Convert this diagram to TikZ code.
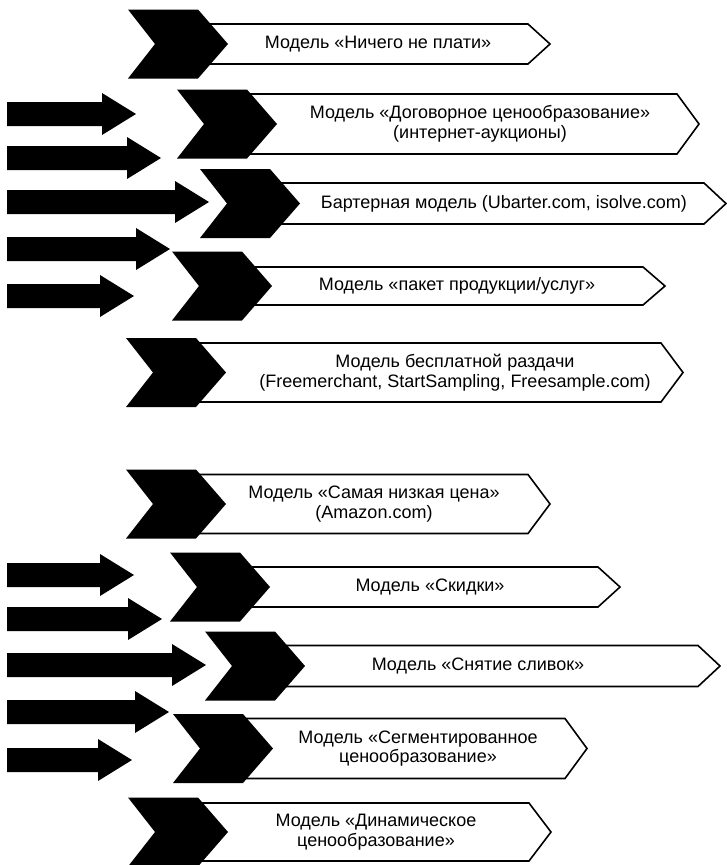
\documentclass[tikz,border=0pt]{standalone}
\usepackage{fontspec}
\setmainfont{Liberation Sans}
% #1 name, #2 chevron left x, #3 mid y, #4 half height of box, #5 box corner x, #6 text x, #7 text
\newcommand\modelrow[7]{%
  \path[boxshape] (#2+60,#3-#4) -- (#5,#3-#4) -- (#5+22,#3) -- (#5,#3+#4) -- (#2+60,#3+#4);
  \path[chevshape] (#2,#3-34.5) -- (#2+70,#3-34.5) -- (#2+100,#3) -- (#2+70,#3+34.5) -- (#2,#3+34.5) -- (#2+27,#3) -- cycle;
  \node[lbl] (#1) at (#6,#3) {#7};
}
% #1 mid y, #2 x of head base
\newcommand\fatarr[2]{%
  \path[fatarrowshape] (7,#1-12) -- (#2,#1-12) -- (#2,#1-21) -- (#2+34,#1) -- (#2,#1+21) -- (#2,#1+12) -- (7,#1+12) -- cycle;
}
\begin{document}
\begin{tikzpicture}[x=1pt,y=-1pt,
  boxshape/.style={fill=white,draw=black,line width=1.6pt,line join=miter},
  chevshape/.style={fill=black},
  fatarrowshape/.style={fill=black},
  lbl/.style={font=\fontsize{18}{19.5}\selectfont,align=center,inner sep=0pt}]
\useasboundingbox (0,0) rectangle (727,865);

% upper group
\fatarr{114}{102}
\fatarr{158}{127}
\fatarr{202}{175}
\fatarr{249}{136}
\fatarr{296}{100}
\modelrow{m1}{128}{44}{20}{528}{378}{Модель «Ничего не плати»}
\modelrow{m2}{177}{124}{30}{677}{480}{Модель «Договорное ценообразование»\\(интернет-аукционы)}
\modelrow{m3}{200}{203.5}{20.5}{704}{504}{Бартерная модель (Ubarter.com, isolve.com)}
\modelrow{m4}{172}{286}{19}{643}{457}{Модель «пакет продукции/услуг»}
\modelrow{m5}{126}{372.5}{29.5}{661}{455}{Модель бесплатной раздачи\\(Freemerchant, StartSampling, Freesample.com)}

% lower group
\fatarr{575}{100}
\fatarr{619}{128}
\fatarr{665}{172}
\fatarr{712}{135}
\fatarr{760}{98}
\modelrow{m6}{126}{504}{29.5}{528}{374}{Модель «Самая низкая цена»\\(Amazon.com)}
\modelrow{m7}{170}{587}{20}{598}{430}{Модель «Скидки»}
\modelrow{m8}{205}{666}{20.5}{698}{478}{Модель «Снятие сливок»}
\modelrow{m9}{173}{748.5}{30}{565}{418}{Модель «Сегментированное\\ценообразование»}
\modelrow{m10}{128}{832}{29}{529}{376}{Модель «Динамическое\\ценообразование»}
\end{tikzpicture}
\end{document}
